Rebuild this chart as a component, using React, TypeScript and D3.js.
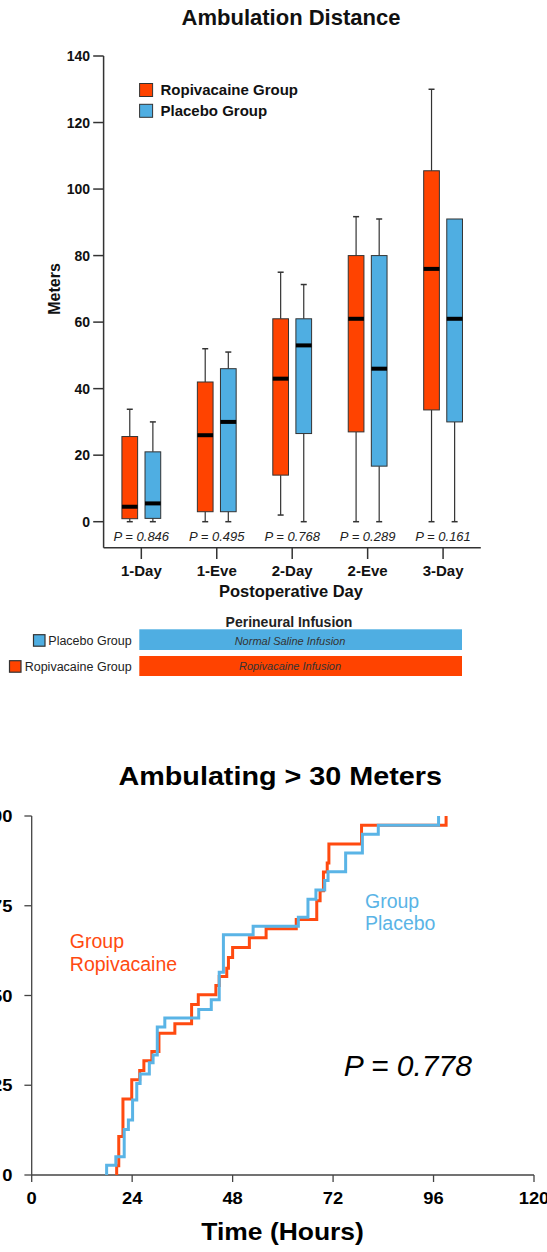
import React from 'react';
import * as d3 from 'd3';

// ---------- Top chart data ----------
const days = ['1-Day', '1-Eve', '2-Day', '2-Eve', '3-Day'];
const groups = ['Ropivacaine', 'Placebo'];
const ropiLow = [0, 0, 2, 0, 0];
const ropiQ1 = [0.9, 3, 14, 27, 33.6];
const ropiMed = [4.5, 26, 43, 61, 76];
const ropiQ3 = [25.6, 42, 61, 80, 105.5];
const ropiHigh = [33.8, 52, 75, 91.7, 130];
const placLow = [0, 0, 0, 0, 0];
const placQ1 = [1, 3, 26.5, 16.7, 30];
const placMed = [5.5, 30, 53, 46, 61];
const placQ3 = [21, 46, 61, 80, 91];
const placHigh = [30, 51, 71.3, 91, 91];
const pValues = ['P = 0.846', 'P = 0.495', 'P = 0.768', 'P = 0.289', 'P = 0.161'];
const topYTicks = [0, 20, 40, 60, 80, 100, 120, 140];

// ---------- Bottom chart data ----------
const ropiTimes = [20.3, 20.8, 21.8, 23.9, 25.8, 26.8, 28.7, 30.4, 34.2, 38.2, 39.8, 44.0, 44.8, 46.6, 47.0, 48.0, 52.0, 56.0, 63.2, 68.1, 68.9, 69.7, 70.6, 71.0, 78.8, 99.0];
const ropiPct = [2.6, 10.7, 21.2, 26.5, 29.1, 31.8, 34.4, 39.5, 42.1, 47.5, 50.2, 52.8, 55.3, 57.6, 60.6, 63.4, 66.1, 68.6, 71.2, 76.4, 79.2, 84.4, 86.9, 92.2, 97.4, 100];
const placTimes = [17.9, 20.1, 22.1, 23.1, 24.1, 25.1, 25.9, 28.1, 29.0, 30.0, 31.8, 39.9, 42.9, 44.8, 45.8, 52.9, 63.7, 66.0, 67.9, 70.0, 70.8, 75.0, 79.0, 82.8, 97.2];
const placPct = [2.7, 5.1, 12.7, 15.3, 20.9, 25.5, 28.1, 31.3, 33.4, 41.2, 43.7, 46.1, 48.8, 56.5, 66.9, 69.3, 71.8, 76.8, 79.4, 82.0, 84.5, 89.7, 94.9, 97.4, 100];
const botXTicks = [0, 24, 48, 72, 96, 120];
const botYTicks = [0, 25, 50, 75, 100];

const RED = '#FF4300';
const BLUE = '#4FAEE2';
const LINE_RED = '#FF4A10';
const LINE_BLUE = '#5AB4E6';
const FONT = '"Liberation Sans", Arial, Helvetica, sans-serif';

export default function App() {
  // top scales
  const y = d3.scaleLinear().domain([0, 140]).range([521.7, 56]);
  const x = d3.scaleBand().domain(days).range([103.6, 480.8]);
  const inner = d3.scaleBand().domain(groups).range([-19.4, 19.4]).paddingInner(0.32);
  const bw = inner.bandwidth();
  const center = (d: string) => (x(d) as number) + x.bandwidth() / 2;

  const boxes = days.flatMap((d, i) => [
    { day: d, g: 'Ropivacaine', lo: ropiLow[i], q1: ropiQ1[i], med: ropiMed[i], q3: ropiQ3[i], hi: ropiHigh[i], fill: RED },
    { day: d, g: 'Placebo', lo: placLow[i], q1: placQ1[i], med: placMed[i], q3: placQ3[i], hi: placHigh[i], fill: BLUE },
  ]);

  // bottom scales
  const bx = d3.scaleLinear().domain([0, 120]).range([31.7, 534]);
  const by = d3.scaleLinear().domain([0, 100]).range([1175, 816]);
  const step = d3.line<[number, number]>().x((p) => bx(p[0])).y((p) => by(p[1])).curve(d3.curveStepAfter);
  const ropiPts: [number, number][] = [[ropiTimes[0], 0], ...ropiTimes.map((t, i) => [t, ropiPct[i]] as [number, number])];
  const placPts: [number, number][] = [[placTimes[0], 0], ...placTimes.map((t, i) => [t, placPct[i]] as [number, number])];

  const axisCol = '#333';

  return (
    <svg width={547} height={1252} style={{ position: 'absolute', left: 0, top: 0, background: '#fff' }} fontFamily={FONT}>
      <rect x={0} y={0} width={547} height={1252} fill="#fff" />
      {/* ---------------- Top chart ---------------- */}
      <text x={291} y={25} textAnchor="middle" fontSize={22} fontWeight="bold" fill="#111">Ambulation Distance</text>

      {/* y axis */}
      <line x1={103.6} x2={103.6} y1={y(140)} y2={547.7} stroke={axisCol} strokeWidth={1.5} />
      {topYTicks.map((t) => (
        <g key={t}>
          <line x1={93.2} x2={103.6} y1={y(t)} y2={y(t)} stroke={axisCol} strokeWidth={1.5} />
          <text x={90} y={y(t)} dy="0.36em" textAnchor="end" fontSize={14} fontWeight="bold" fill="#111">{t}</text>
        </g>
      ))}
      <text transform={`translate(54,289) rotate(-90)`} textAnchor="middle" dy="0.36em" fontSize={16} fontWeight="bold" fill="#111">Meters</text>

      {/* x axis */}
      <line x1={103.6} x2={480.8} y1={547.7} y2={547.7} stroke={axisCol} strokeWidth={1.5} />
      {days.map((d, i) => (
        <g key={d}>
          <line x1={center(d)} x2={center(d)} y1={547.7} y2={559} stroke={axisCol} strokeWidth={1.5} />
          <text x={center(d)} y={575.5} textAnchor="middle" fontSize={15} fontWeight="bold" fill="#111">{d}</text>
          <text x={center(d)} y={541} textAnchor="middle" fontSize={13} fontStyle="italic" fill="#222">{pValues[i]}</text>
        </g>
      ))}
      <text x={291} y={597} textAnchor="middle" fontSize={16.5} fontWeight="bold" fill="#111">Postoperative Day</text>

      {/* boxes */}
      {boxes.map((b) => {
        const cx = center(b.day) + (inner(b.g) as number) + bw / 2;
        const x0 = cx - bw / 2;
        return (
          <g key={b.day + b.g}>
            {b.hi > b.q3 && (
              <>
                <line x1={cx} x2={cx} y1={y(b.hi)} y2={y(b.q3)} stroke="#333" strokeWidth={1.2} />
                <line x1={cx - 3} x2={cx + 3} y1={y(b.hi)} y2={y(b.hi)} stroke="#333" strokeWidth={1.5} />
              </>
            )}
            <line x1={cx} x2={cx} y1={y(b.q1)} y2={y(b.lo)} stroke="#333" strokeWidth={1.2} />
            <line x1={cx - 3} x2={cx + 3} y1={y(b.lo)} y2={y(b.lo)} stroke="#333" strokeWidth={1.5} />
            <rect x={x0} y={y(b.q3)} width={bw} height={y(b.q1) - y(b.q3)} fill={b.fill} stroke="#333" strokeWidth={1} />
            <line x1={x0} x2={x0 + bw} y1={y(b.med)} y2={y(b.med)} stroke="#000" strokeWidth={4} />
          </g>
        );
      })}

      {/* legend */}
      <rect x={139.6} y={83.5} width={13} height={13} fill={RED} stroke="#333" strokeWidth={1} />
      <text x={160.5} y={90} dy="0.36em" fontSize={15} fontWeight="bold" fill="#111">Ropivacaine Group</text>
      <rect x={139.6} y={104.3} width={13} height={13} fill={BLUE} stroke="#333" strokeWidth={1} />
      <text x={160.5} y={110.8} dy="0.36em" fontSize={15} fontWeight="bold" fill="#111">Placebo Group</text>

      {/* perineural infusion */}
      <text x={289} y={626.5} textAnchor="middle" fontSize={14} fontWeight="bold" fill="#222">Perineural Infusion</text>
      <rect x={139.3} y={629.3} width={322.7} height={20.7} fill={BLUE} />
      <rect x={139.3} y={656} width={322.7} height={20} fill={RED} />
      <text x={290} y={640.7} dy="0.36em" textAnchor="middle" fontSize={11} fontStyle="italic" fill="#333">Normal Saline Infusion</text>
      <text x={290} y={666} dy="0.36em" textAnchor="middle" fontSize={11} fontStyle="italic" fill="#333">Ropivacaine Infusion</text>
      <rect x={33.5} y={634.7} width={11.5} height={11.5} fill={BLUE} stroke="#333" strokeWidth={1.2} />
      <text x={131.7} y={640.7} dy="0.36em" textAnchor="end" fontSize={12.5} fill="#222">Placebo Group</text>
      <rect x={9.5} y={660.7} width={11.5} height={11.5} fill={RED} stroke="#333" strokeWidth={1.2} />
      <text x={131.7} y={666.7} dy="0.36em" textAnchor="end" fontSize={12.5} fill="#222">Ropivacaine Group</text>

      {/* ---------------- Bottom chart ---------------- */}
      <text transform="translate(280.2,785) scale(1.15,1)" textAnchor="middle" fontSize={25} fontWeight="bold" fill="#000">Ambulating &gt; 30 Meters</text>

      <line x1={31.7} x2={31.7} y1={by(100)} y2={by(0)} stroke="#444" strokeWidth={1.3} />
      {botYTicks.map((t) => (
        <g key={t}>
          <line x1={24.4} x2={31.7} y1={by(t)} y2={by(t)} stroke="#444" strokeWidth={1.3} />
          <text transform={`translate(12.5,${by(t) + 6}) scale(1.08,1)`} textAnchor="end" fontSize={17} fontWeight="bold" fill="#000">{t}</text>
        </g>
      ))}
      <line x1={31.7} x2={534} y1={by(0)} y2={by(0)} stroke="#444" strokeWidth={1.3} />
      {botXTicks.map((t) => (
        <g key={t}>
          <line x1={bx(t)} x2={bx(t)} y1={by(0)} y2={by(0) + 7} stroke="#444" strokeWidth={1.3} />
          <text transform={`translate(${bx(t)},1204) scale(1.08,1)`} textAnchor="middle" fontSize={17} fontWeight="bold" fill="#000">{t}</text>
        </g>
      ))}
      <text transform="translate(282.6,1240) scale(1.15,1)" textAnchor="middle" fontSize={23} fontWeight="bold" fill="#000">Time (Hours)</text>

      <path d={step(ropiPts) || ''} fill="none" stroke={LINE_RED} strokeWidth={3} />
      <path d={step(placPts) || ''} fill="none" stroke={LINE_BLUE} strokeWidth={3} />

      <text x={69.8} y={948.3} fontSize={19.5} fill={LINE_RED}>Group</text>
      <text x={69.8} y={970.7} fontSize={19.5} fill={LINE_RED}>Ropivacaine</text>
      <text x={365} y={908.3} fontSize={19.5} fill={LINE_BLUE}>Group</text>
      <text x={365} y={930} fontSize={19.5} fill={LINE_BLUE}>Placebo</text>

      <text x={343.7} y={1075.7} fontSize={30} fontStyle="italic" fill="#000">P = 0.778</text>
    </svg>
  );
}
